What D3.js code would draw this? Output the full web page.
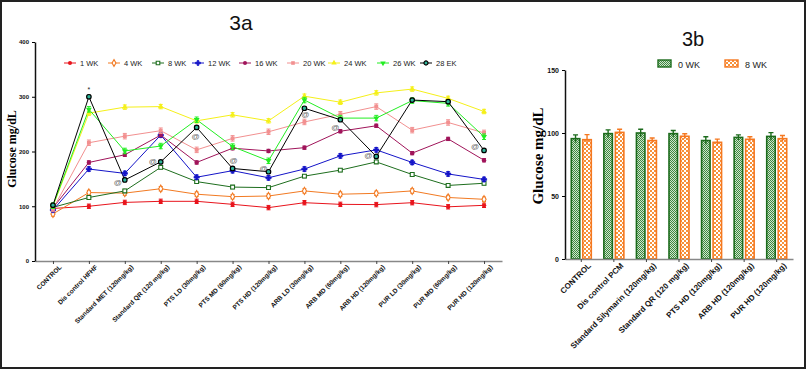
<!DOCTYPE html>
<html>
<head>
<meta charset="utf-8">
<script src="https://cdn.jsdelivr.net/npm/d3@7"></script>
<style>
  body { margin: 0; background: #fff; }
  svg { display: block; }
  text { font-family: Arial, "Liberation Sans", sans-serif; }
</style>
</head>
<body>
<div class="chart"></div>
<script>
// Figure 3a - glucose over weeks, 3b - bar chart 0 vs 8 WK

const CATS_A = ['CONTROL', 'Dis control HFHF', 'Standard MET (120mg/kg)', 'Standard QR (120 mg/kg)',
    'PTS LD (30mg/kg)', 'PTS MD (60mg/kg)', 'PTS HD (120mg/kg)', 'ARB LD (30mg/kg)',
    'ARB MD (60mg/kg)', 'ARB HD (120mg/kg)', 'PUR LD (30mg/kg)', 'PUR MD (60mg/kg)', 'PUR HD (120mg/kg)']

const WEEKS = ['1 WK', '4 WK', '8 WK', '12 WK', '16 WK', '20 WK', '24 WK', '26 WK', '28 EK']

const WK1  = [96, 100, 107, 109, 109, 103.5, 97.5, 106.5, 103.5, 103, 106.5, 99, 101.7]
const WK4  = [86, 125, 124, 132, 122, 117.5, 118.7, 128, 122, 123.6, 128, 116, 112.7]
const WK8  = [98, 116, 128, 171, 145, 135, 134, 155, 166, 181, 158, 138, 142]
const WK12 = [93, 168, 160, 230, 153, 165, 152, 168, 192, 203, 180, 159, 149]
const WK16 = [97, 180, 194, 230, 180, 206, 201, 207, 237, 247, 197, 223, 184]
const WK20 = [95, 216, 228, 238, 203, 224, 236, 254, 268, 282, 239, 253, 234]
const WK24 = [100, 270, 281, 282, 256, 267, 256, 301, 290, 307, 314, 297, 273]
const WK26 = [101, 277, 201, 210, 258, 209, 183, 294, 261, 261, 293, 288, 227]
const WK28 = [102, 300, 148, 181, 244, 169, 163, 279, 258, 191, 294, 291, 202]
const ERR_A = [4, 4, 3, 4, 3, 5, 4, 5, 3]   // rough error bar half-size per week

// '@' marks and '*' on the 28 EK series
const AT_MARKS = [2, 3, 4, 5, 6, 7, 8, 9, 12]
const STAR_MARK = 1

const CATS_B = ['CONTROL', 'Dis control PCM', 'Standard Silymarin (120mg/kg)', 'Standard QR (120 mg/kg)',
    'PTS HD (120mg/kg)', 'ARB HD (120mg/kg)', 'PUR HD (120mg/kg)']
const GROUPS_B = ['0 WK', '8 WK']
const WK0_B = [95.5, 99.5, 100, 99.5, 94, 96.5, 97.3]
const WK8_B = [94.7, 100.5, 94, 97.4, 92.6, 95, 95.5]
const ERR0_B = [3, 3, 3, 2.5, 3, 2, 3]
const ERR8_B = [4, 2.5, 2, 2, 2.5, 2, 2.5]

const TICKS_A = [0, 100, 200, 300, 400]
const TICKS_B = [0, 50, 100, 150]

var seriesA = [WK1, WK4, WK8, WK12, WK16, WK20, WK24, WK26, WK28]
var colors = ['#e8141c', '#f27a22', '#1e6e1e', '#1414c8', '#a0145a', '#f29090', '#f5f019', '#22ee22', '#000']
var symbols = [d3.symbolCircle, d3.symbolDiamond, d3.symbolSquare, d3.symbolCross, d3.symbolCircle,
    d3.symbolSquare, d3.symbolTriangle, d3.symbolTriangle, d3.symbolCircle]
var hollow = [false, true, true, false, false, false, false, false, false]

var svg = d3.select('.chart').append('svg')
    .attr('width', 807).attr('height', 370)

var defs = svg.append('defs')
var pg = defs.append('pattern').attr('id', 'checkG').attr('patternUnits', 'userSpaceOnUse')
    .attr('width', 2).attr('height', 2)
pg.append('rect').attr('width', 2).attr('height', 2).attr('fill', '#cfe3cf')
pg.append('rect').attr('width', 1).attr('height', 1).attr('fill', '#3f8a3f')
pg.append('rect').attr('x', 1).attr('y', 1).attr('width', 1).attr('height', 1).attr('fill', '#3f8a3f')
var po = defs.append('pattern').attr('id', 'checkO').attr('patternUnits', 'userSpaceOnUse')
    .attr('width', 4).attr('height', 4)
po.append('rect').attr('width', 4).attr('height', 4).attr('fill', '#fff')
po.append('rect').attr('width', 2).attr('height', 2).attr('fill', '#f7913a')
po.append('rect').attr('x', 2).attr('y', 2).attr('width', 2).attr('height', 2).attr('fill', '#f7913a')

// frame
svg.append('rect').attr('x', 1).attr('y', 1).attr('width', 804).attr('height', 367)
    .attr('fill', 'none').attr('stroke', '#222').attr('stroke-width', 2)

// ---------------- 3a ----------------
var xA = d3.scalePoint().domain(CATS_A).range([35, 502]).padding(0.5)
var yA = d3.scaleLinear().domain([0, 400]).range([261, 42])

svg.append('text').attr('x', 241).attr('y', 30).attr('text-anchor', 'middle')
    .attr('font-size', '21px').attr('fill', '#111').text('3a')

var gxA = svg.append('g').attr('transform', 'translate(0,261)')
    .call(d3.axisBottom(xA).tickSize(3).tickSizeOuter(0))
gxA.select('.domain').attr('stroke', '#888').attr('stroke-width', 1.5)
gxA.selectAll('.tick line').attr('stroke', '#444')
gxA.selectAll('.tick text')
    .attr('font-size', '6.5px').attr('font-weight', 'bold').attr('fill', '#111')
    .attr('text-anchor', 'end')
    .attr('transform', 'translate(3,1) rotate(-45)')
    .attr('dy', '0.6em').attr('y', 4).attr('x', 0)

var gyA = svg.append('g').attr('transform', 'translate(35,0)')
    .call(d3.axisLeft(yA).tickValues(TICKS_A).tickSize(3).tickSizeOuter(0))
gyA.select('.domain').attr('stroke', '#111').attr('stroke-width', 1.5)
gyA.selectAll('.tick text').attr('font-size', '6px').attr('font-weight', 'bold').attr('fill', '#111')

svg.append('text').attr('transform', 'translate(16,149) rotate(-90)')
    .attr('text-anchor', 'middle').attr('font-size', '12px').attr('font-weight', 'bold')
    .style('font-family', '"Liberation Serif", "Times New Roman", serif')
    .text('Glucose mg/dL')

function drawMarker(g, i, size) {
    var sym = g.append('path')
        .attr('d', d3.symbol().type(symbols[i]).size(size)())
    if (i == 7) sym.attr('transform', 'rotate(180)')
    if (i == 8) {
        sym.attr('fill', '#2fb59a').attr('stroke', '#000').attr('stroke-width', 1.2)
    } else if (hollow[i]) {
        sym.attr('fill', '#fff').attr('stroke', colors[i]).attr('stroke-width', 1.1)
    } else if (i == 3) {
        sym.attr('fill', colors[i]).attr('stroke', colors[i]).attr('stroke-width', 0.8)
    } else {
        sym.attr('fill', colors[i])
    }
    return sym
}

var line = d3.line().x((d, j) => xA(CATS_A[j])).y(d => yA(d))
var plotA = svg.append('g')
seriesA.forEach((vals, i) => {
    plotA.append('path').datum(vals)
        .attr('d', line).attr('fill', 'none')
        .attr('stroke', colors[i]).attr('stroke-width', 1)
})
seriesA.forEach((vals, i) => {
    var grp = plotA.selectAll(null).data(vals).enter().append('g')
        .attr('transform', (d, j) => `translate(${xA(CATS_A[j])},${yA(d)})`)
    grp.each(function(d, j) {
        var g = d3.select(this)
        var e = yA(0) - yA(ERR_A[i])
        g.append('path').attr('d', `M0,${-e}V${e}M-2,${-e}H2M-2,${e}H2`)
            .attr('stroke', colors[i]).attr('stroke-width', 1).attr('fill', 'none')
        drawMarker(g, i, i == 8 ? 16 : 15)
    })
})

// annotations
var atOffsets = {2: [-7, 2], 3: [-8, -1], 4: [-1, 9], 5: [1, -8], 6: [-5, -4], 7: [1, 6], 8: [-5, 7], 9: [-8, -1], 12: [-9, -4]}
AT_MARKS.forEach(k => {
    var o = atOffsets[k]
    svg.append('text').attr('x', xA(CATS_A[k]) + o[0]).attr('y', yA(WK28[k]) + o[1] + 2.8)
        .attr('text-anchor', 'middle').attr('font-size', '8px').attr('fill', '#666')
        .text('@')
})
svg.append('text').attr('x', xA(CATS_A[STAR_MARK])).attr('y', yA(WK28[STAR_MARK]) - 5)
    .attr('text-anchor', 'middle').attr('font-size', '7px').attr('fill', '#222').text('*')

// legend 3a
var legX = [70, 114, 158, 198, 245, 293, 334, 383, 426]
WEEKS.forEach((w, i) => {
    var g = svg.append('g').attr('transform', `translate(${legX[i]},63)`)
    g.append('line').attr('x1', -6).attr('x2', 6).attr('stroke', colors[i]).attr('stroke-width', 1)
    drawMarker(g, i, 13)
    g.append('text').attr('x', 10).attr('y', 2.6).attr('font-size', '7.5px').attr('fill', '#222').text(w)
})

// ---------------- 3b ----------------
var xB = d3.scaleBand().domain(CATS_B).range([565, 793])
var yB = d3.scaleLinear().domain([0, 150]).range([259, 70])

svg.append('text').attr('x', 693).attr('y', 46).attr('text-anchor', 'middle')
    .attr('font-size', '20px').attr('fill', '#111').text('3b')

var barW = 8.5
var barData = [WK0_B, WK8_B]
var barErr = [ERR0_B, ERR8_B]
var barStroke = ['#1c6b1c', '#f57820']
var barFill = ['url(#checkG)', 'url(#checkO)']
var plotB = svg.append('g')
barData.forEach((vals, s) => {
    var off = s == 0 ? -10 : 1.5
    var cx = (d, j) => xB(CATS_B[j]) + xB.bandwidth() / 2 + off
    plotB.selectAll(null).data(vals).enter().append('rect')
        .attr('x', cx).attr('y', d => yB(d))
        .attr('width', barW).attr('height', d => yB(0) - yB(d))
        .attr('fill', barFill[s]).attr('stroke', barStroke[s]).attr('stroke-width', 1.6)
    plotB.selectAll(null).data(vals).enter().append('path')
        .attr('d', (d, j) => {
            var x = cx(d, j) + barW / 2
            var t = yB(d + barErr[s][j]), b = yB(d - barErr[s][j])
            return `M${x},${t}V${b}M${x - 2.5},${t}H${x + 2.5}`
        })
        .attr('stroke', barStroke[s]).attr('stroke-width', 1.4).attr('fill', 'none')
})

var gxB = svg.append('g').attr('transform', 'translate(0,259)')
    .call(d3.axisBottom(xB).tickSize(3).tickSizeOuter(0))
gxB.select('.domain').attr('stroke', '#888').attr('stroke-width', 1.5)
gxB.selectAll('.tick line').attr('stroke', '#444')
gxB.selectAll('.tick text')
    .attr('font-size', '8px').attr('font-weight', 'bold').attr('fill', '#111')
    .attr('text-anchor', 'end')
    .attr('transform', 'translate(4,1) rotate(-45)')
    .attr('dy', '0.6em').attr('y', 4).attr('x', 0)

var gyB = svg.append('g').attr('transform', 'translate(565,0)')
    .call(d3.axisLeft(yB).tickValues(TICKS_B).tickSize(3).tickSizeOuter(0))
gyB.select('.domain').attr('stroke', '#111').attr('stroke-width', 1.5)
gyB.selectAll('.tick text').attr('font-size', '7px').attr('font-weight', 'bold').attr('fill', '#111')

svg.append('text').attr('transform', 'translate(543,156) rotate(-90)')
    .attr('text-anchor', 'middle').attr('font-size', '15px').attr('font-weight', 'bold')
    .style('font-family', '"Liberation Serif", "Times New Roman", serif')
    .text('Glucose mg/dL')

// legend 3b
var legBX = [658, 725]
GROUPS_B.forEach((gname, s) => {
    svg.append('rect').attr('x', legBX[s]).attr('y', 60).attr('width', 13).attr('height', 7)
        .attr('fill', barFill[s]).attr('stroke', barStroke[s]).attr('stroke-width', 1.4)
    svg.append('text').attr('x', legBX[s] + 20).attr('y', 67.5)
        .attr('font-size', '9px').attr('fill', '#222').text(gname)
})
</script>
</body>
</html>
